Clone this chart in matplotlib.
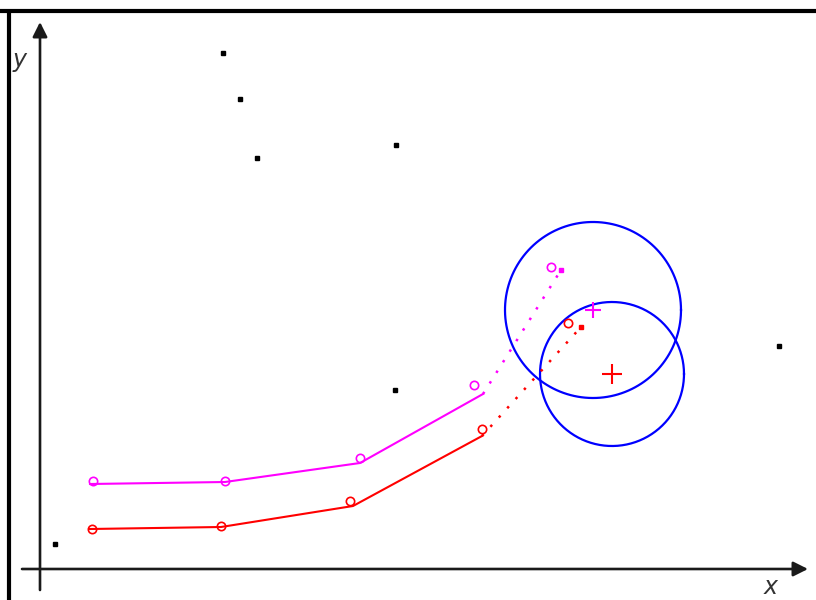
import matplotlib.pyplot as plt
import numpy as np

# data (origin where the two axes cross, y pointing up)
black_x = [15, 183, 200, 217, 356, 355, 739]
black_y = [25, 516, 470, 411, 424, 179, 223]

mag_pts_x = [53, 185, 320, 434, 511]
mag_pts_y = [88, 88, 111, 184, 302]
mag_path_x = [50, 185, 320, 443]
mag_path_y = [85, 87, 106, 175]
mag_pred = (521, 299)
mag_center = (553, 259)

red_pts_x = [52, 181, 310, 442, 528]
red_pts_y = [40, 43, 68, 140, 246]
red_path_x = [50, 181, 313, 442]
red_path_y = [40, 42, 63, 133]
red_pred = (541, 242)
red_center = (572, 195)

radii = [88, 72]

fig = plt.figure(figsize=(8.16, 6.0), dpi=100)
ax = fig.add_axes([0, 0, 1, 1])
ax.set_xlim(-40, 776)
ax.set_ylim(-31, 569)
ax.axis('off')

# frame (top and left only)
ax.plot([-40, 776], [558, 558], color='black', lw=3, solid_capstyle='butt')
ax.plot([-31, -31], [-31, 558], color='black', lw=3, solid_capstyle='butt')

# axes with arrows
arrow = dict(arrowstyle='-|>', lw=1.9, color='#1a1a1a', mutation_scale=22,
             shrinkA=0, shrinkB=0)
ax.annotate('', xy=(768, 0), xytext=(-18, 0), arrowprops=arrow)
ax.annotate('', xy=(0, 547), xytext=(0, -21), arrowprops=arrow)
ax.text(-20, 509, 'y', fontsize=17, style='italic', ha='center', va='center',
        color='#333333', fontweight='light')
ax.text(731, -18, 'x', fontsize=17, style='italic', ha='center', va='center',
        color='#333333', fontweight='light')

# scattered points
ax.plot(black_x, black_y, 's', color='black', ms=3)

# blue circles around the two predicted centres
for c, r in zip([mag_center, red_center], radii):
    t = np.linspace(0, 2 * np.pi, 300)
    ax.plot(c[0] + r * np.cos(t), c[1] + r * np.sin(t), color='blue', lw=1.6)

for px, py, lx, ly, pred, cen, col, ms in [
        (mag_pts_x, mag_pts_y, mag_path_x, mag_path_y, mag_pred, mag_center,
         'magenta', 12),
        (red_pts_x, red_pts_y, red_path_x, red_path_y, red_pred, red_center,
         'red', 15)]:
    ax.plot(lx, ly, color=col, lw=1.5)
    ax.plot([lx[-1], pred[0]], [ly[-1], pred[1]], color=col, lw=1.8,
            linestyle=(0, (1, 4)))
    ax.plot(*pred, 's', color=col, ms=3.5)
    ax.plot(px, py, 'o', mfc='none', mec=col, ms=6, mew=1.2)
    ax.plot(*cen, '+', color=col, ms=ms, mew=1.5)

plt.savefig('out.png', dpi=100)
